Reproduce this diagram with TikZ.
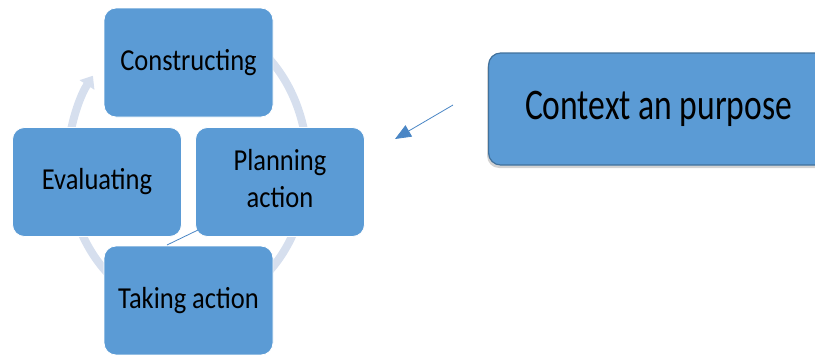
\documentclass[tikz,border=0pt]{standalone}
\usepackage{fontspec}
\setmainfont{Carlito}
\usetikzlibrary{arrows.meta,shadows}
\definecolor{boxblue}{HTML}{5B9BD5}
\definecolor{ringc}{HTML}{D6DFEE}
\definecolor{darkborder}{HTML}{41719C}
\definecolor{linkblue}{HTML}{4A86C5}
\begin{document}
\begin{tikzpicture}[x=1pt,y=-1pt,
  cyc/.style={draw=white, line width=0.8pt, fill=boxblue, rounded corners=12pt,
    minimum width=169pt, minimum height=109pt, inner sep=0pt,
    font=\fontsize{26.5}{32}\selectfont, align=center},
  ring/.style={draw=ringc, line width=8pt},
  ctxbox/.style={draw=darkborder, line width=1.2pt, fill=boxblue, rounded corners=12pt,
    minimum width=340pt, minimum height=112pt, inner sep=0pt,
    font=\fontsize{33.6}{40}\selectfont,
    drop shadow={shadow xshift=-1.5pt, shadow yshift=-3pt, opacity=0.35}},
  link/.style={draw=linkblue, line width=0.8pt}]
\useasboundingbox (0,0) rectangle (815,354);
\clip (0,0) rectangle (815,354);
% cycle ring
\begin{scope}[shift={(187.5,165)}]
  \draw[ring, -{Triangle[width=17pt,length=11pt]}] (190:120 and 145) arc[start angle=190, end angle=218, x radius=120, y radius=145];
  \draw[ring] (290:120 and 145) arc[start angle=290, end angle=350, x radius=120, y radius=145];
  \draw[ring] (20:120 and 145) arc[start angle=20, end angle=75, x radius=120, y radius=145];
  \draw[ring] (105:120 and 145) arc[start angle=105, end angle=165, x radius=120, y radius=145];
\end{scope}
% cycle boxes
\node[cyc] (con) at (188.5,62.5) {\scalebox{1}[1.15]{Constructing}};
\node[cyc] (eva) at (97,182) {\scalebox{1}[1.15]{Evaluating}};
\node[cyc] (pla) at (280,182) {\scalebox{1}[1.15]{\begin{tabular}{@{}c@{}}Planning\\action\end{tabular}}};
\node[cyc] (tak) at (188.5,300.5) {\scalebox{1}[1.15]{Taking action}};
% thin link
\coordinate (lA) at (198,230);
\coordinate (lB) at (167,245);
\draw[link] (lA) -- (lB);
% context box
\node[ctxbox, anchor=west] (ctx) at (488,109) {\scalebox{1}[1.3]{Context an purpose}};
% arrow
\coordinate (aS) at (453,105);
\coordinate (aE) at (395,139);
\draw[link, -{Triangle[width=13pt,length=16pt]}] (aS) -- (aE);
\end{tikzpicture}
\end{document}
